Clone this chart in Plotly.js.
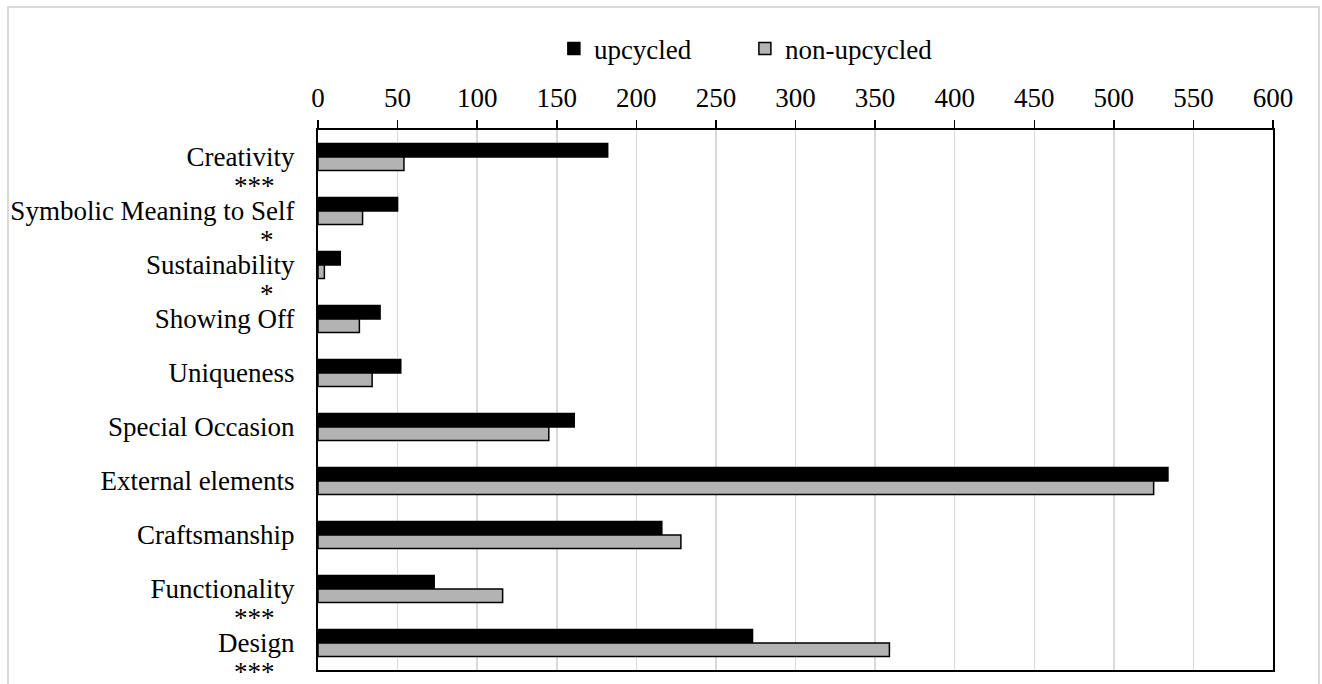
<!DOCTYPE html>
<html>
<head>
<meta charset="utf-8">
<script src="https://cdn.plot.ly/plotly-3.0.1.min.js"></script>
<style>html,body{margin:0;padding:0;background:#fff;}#chart{width:1322px;height:684px;}</style>
</head>
<body>
<div id="chart"></div>
<script>
var categories = ['Creativity', 'Symbolic Meaning to Self', 'Sustainability', 'Showing Off', 'Uniqueness', 'Special Occasion', 'External elements', 'Craftsmanship', 'Functionality', 'Design'];
var upcycled = [182, 50, 14, 39, 52, 161, 534, 216, 73, 273];
var nonUpcycled = [54, 28, 4, 26, 34, 145, 525, 228, 116, 359];
var significance = ['***', '*', '*', '', '', '', '', '', '***', '***'];
var xTicks = [0, 50, 100, 150, 200, 250, 300, 350, 400, 450, 500, 550, 600];

var FONT = 'Liberation Serif';
var FS = 27;

var traces = [
  {type: 'bar', orientation: 'h', name: 'upcycled', y: categories, x: upcycled,
   marker: {color: '#000000', line: {color: '#000000', width: 1.5}}},
  {type: 'bar', orientation: 'h', name: 'non-upcycled', y: categories, x: nonUpcycled,
   marker: {color: '#b3b3b3', line: {color: '#000000', width: 1.5}}}
];

var annotations = [];
categories.forEach(function (c, i) {
  if (!significance[i]) return;
  annotations.push({
    xref: 'paper', yref: 'y', x: significance[i].length > 1 ? -0.066 : -0.053, y: c,
    xanchor: 'center', yanchor: 'middle', yshift: -29,
    text: significance[i], showarrow: false,
    font: {family: FONT, size: FS, color: '#000'}
  });
});

var layout = {
  width: 1322, height: 684,
  margin: {l: 318, r: 49, t: 130, b: 14, autoexpand: false},
  paper_bgcolor: '#fff', plot_bgcolor: '#fff',
  barmode: 'group', bargap: 0.5, bargroupgap: 0,
  font: {family: FONT, size: FS, color: '#000'},
  showlegend: true,
  legend: {orientation: 'h', x: 0.247, y: 1.15, xanchor: 'left', yanchor: 'middle',
           bgcolor: 'rgba(0,0,0,0)', entrywidth: 146, entrywidthmode: 'pixels',
           font: {family: FONT, size: FS, color: '#000'}, itemwidth: 30, traceorder: 'normal'},
  xaxis: {side: 'top', range: [0, 600], tickvals: xTicks, ticktext: xTicks.map(String),
          automargin: false,
          showgrid: true, gridcolor: '#d9d9d9', gridwidth: 1.5,
          showline: true, linecolor: '#000', linewidth: 2, mirror: true,
          ticks: 'outside', ticklen: 8, tickwidth: 1.5, tickcolor: '#000',
          ticklabelstandoff: 2, zeroline: false, fixedrange: true,
          tickfont: {family: FONT, size: FS, color: '#000'}},
  yaxis: {type: 'category', autorange: false, range: [9.5, -0.5], automargin: false,
          showline: true, linecolor: '#000', linewidth: 2, mirror: true,
          ticks: '', showgrid: false, ticklabelstandoff: 16, fixedrange: true,
          tickfont: {family: FONT, size: FS, color: '#000'}},
  annotations: annotations,
  shapes: [{type: 'rect', xref: 'paper', yref: 'paper', x0: -0.3246, x1: 1.0482, y0: -0.04, y1: 1.2278,
            line: {color: '#d9d9d9', width: 2}, fillcolor: 'rgba(0,0,0,0)', layer: 'below'}]
};

Plotly.newPlot('chart', traces, layout, {displayModeBar: false, staticPlot: true});
</script>
</body>
</html>
